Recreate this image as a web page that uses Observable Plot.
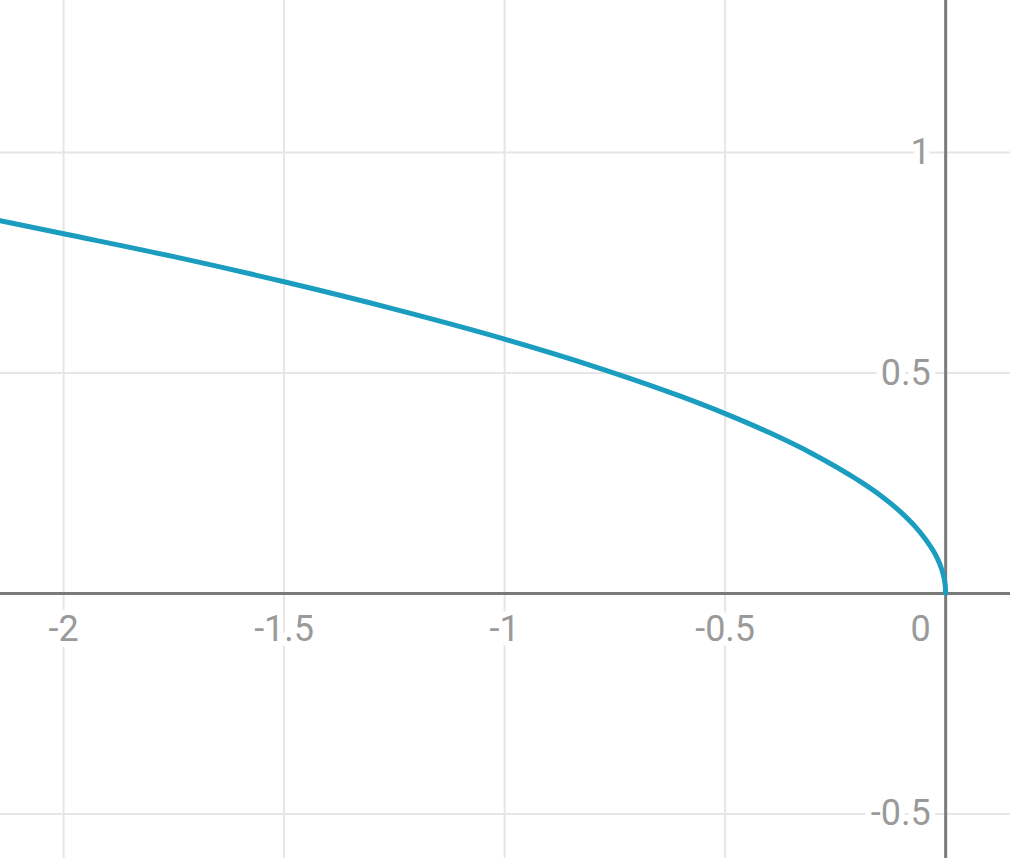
<!DOCTYPE html>
<html>
<head>
<meta charset="utf-8">
<script src="https://cdn.jsdelivr.net/npm/d3@7"></script>
<script src="https://cdn.jsdelivr.net/npm/@observablehq/plot@0.6"></script>
<style>
  html, body { margin: 0; padding: 0; background: #fff; }
  #chart svg { display: block; }
</style>
</head>
<body>
<div id="chart"></div>
<script>
// Curve points
const curveX = [-2.15, -2.0, -1.75, -1.5, -1.25, -1.0, -0.8, -0.6, -0.5, -0.4, -0.3, -0.2, -0.15, -0.1, -0.07, -0.05, -0.03, -0.02, -0.01, -0.005, -0.002, -0.0005, 0];
const curveY = [0.847, 0.816, 0.764, 0.707, 0.645, 0.577, 0.516, 0.447, 0.408, 0.365, 0.316, 0.258, 0.224, 0.183, 0.153, 0.129, 0.100, 0.082, 0.058, 0.041, 0.026, 0.013, 0];

// Grid / tick values
const xGrid = [-2, -1.5, -1, -0.5, 0];
const xTickLabels = ["-2", "-1.5", "-1", "-0.5"];
const xTickValues = [-2, -1.5, -1, -0.5];
const yGrid = [-0.5, 0.5, 1];
const yTickLabels = ["-0.5", "0.5", "1"];
const yTickValues = [-0.5, 0.5, 1];
const originLabel = ["0"];

const curve = curveX.map((x, i) => ({x, y: curveY[i]}));
const xTicks = xTickValues.map((v, i) => ({v, label: xTickLabels[i]}));
const yTicks = yTickValues.map((v, i) => ({v, label: yTickLabels[i]}));

const font = "Roboto, 'Noto Sans', sans-serif";
const labelColor = "#9a9a9a";

const chart = Plot.plot({
  width: 1010,
  height: 858,
  margin: 0,
  style: {fontFamily: font, background: "#fff"},
  x: {domain: [-2.143, 0.147], axis: null},
  y: {domain: [-0.601, 1.345], axis: null},
  marks: [
    Plot.ruleX(xGrid, {stroke: "#e6e6e6", strokeWidth: 2}),
    Plot.ruleY(yGrid, {stroke: "#e6e6e6", strokeWidth: 2}),
    Plot.text(xTicks, {x: "v", y: () => 0, text: "label", dy: 36, fontSize: 36, fill: labelColor, stroke: "white", strokeWidth: 12, textAnchor: "middle", lineAnchor: "middle"}),
    Plot.text(yTicks, {x: () => 0, y: "v", text: "label", dx: -15, fontSize: 36, fill: labelColor, stroke: "white", strokeWidth: 12, textAnchor: "end", lineAnchor: "middle"}),
    Plot.text(originLabel, {x: () => 0, y: () => 0, text: d => d, dx: -15, dy: 36, fontSize: 36, fill: labelColor, stroke: "white", strokeWidth: 12, textAnchor: "end", lineAnchor: "middle"}),
    Plot.ruleX([0], {stroke: "#7a7a7a", strokeWidth: 3}),
    Plot.ruleY([0], {stroke: "#7a7a7a", strokeWidth: 3}),
    Plot.line(curve, {x: "x", y: "y", stroke: "#1b9dc0", strokeWidth: 5, curve: "monotone-x"})
  ]
});
document.getElementById("chart").appendChild(chart);
</script>
</body>
</html>
